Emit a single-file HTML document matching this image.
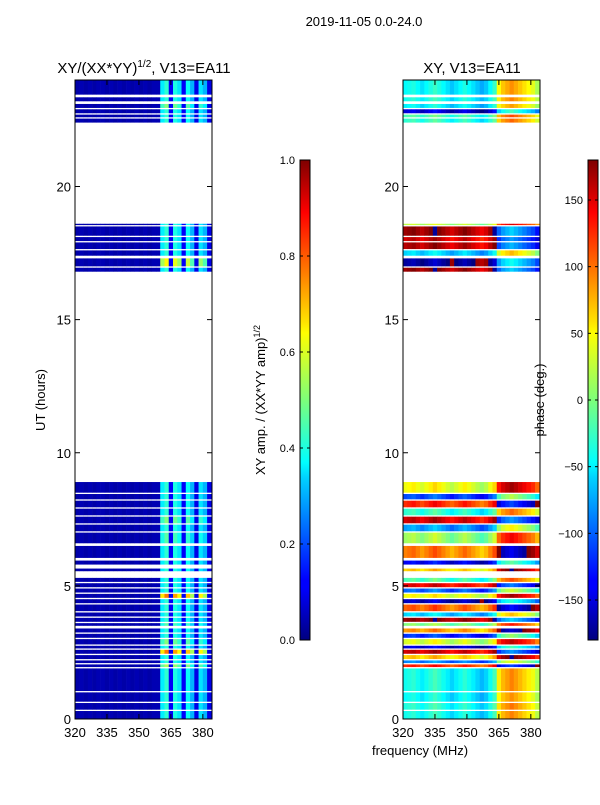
<!DOCTYPE html>
<html><head><meta charset="utf-8"><style>
body{margin:0;background:#fff;font-family:"Liberation Sans",sans-serif}
svg text{font-family:"Liberation Sans",sans-serif;fill:#000}
</style></head><body>
<svg id="fig" width="600" height="800" viewBox="0 0 600 800" xmlns="http://www.w3.org/2000/svg">
<defs>
<linearGradient id="jet" x1="0" y1="1" x2="0" y2="0">
<stop offset="0" stop-color="#00007f"/><stop offset="0.11" stop-color="#0000ff"/><stop offset="0.125" stop-color="#0000ff"/><stop offset="0.34" stop-color="#00d4ff"/><stop offset="0.37" stop-color="#0ff"/><stop offset="0.5" stop-color="#7dff7a"/><stop offset="0.64" stop-color="#ff0"/><stop offset="0.66" stop-color="#ffe600"/><stop offset="0.89" stop-color="#ff0000"/><stop offset="1" stop-color="#7f0000"/>
</linearGradient>
</defs>
<text x="364" y="26" font-size="13" text-anchor="middle">2019-11-05 0.0-24.0</text>
<g id="left"></g>
<g id="right"></g>
<text x="144" y="73" font-size="15" text-anchor="middle">XY/(XX*YY)<tspan font-size="10" dy="-6">1/2</tspan><tspan dy="6">, V13=EA11</tspan></text>
<text x="472" y="73" font-size="15" text-anchor="middle">XY, V13=EA11</text>
<text transform="translate(45,400) rotate(-90)" font-size="13" text-anchor="middle">UT (hours)</text>
<text x="420" y="755" font-size="13" text-anchor="middle">frequency (MHz)</text>
<text transform="translate(265,400) rotate(-90)" font-size="13" text-anchor="middle">XY amp. / (XX*YY amp)<tspan font-size="9" dy="-5">1/2</tspan></text>
<text transform="translate(544,400) rotate(-90)" font-size="13" text-anchor="middle">phase (deg.)</text>
</svg>
<script>
// time blocks with data (hours)
const blockStart=[0.0,0.35,0.65,1.05,1.95,2.1,2.25,2.45,2.65,2.8,3.05,3.25,3.5,3.65,3.85,4.05,4.35,4.55,4.75,4.95,5.15,5.55,5.8,6.05,6.6,7.05,7.35,7.65,7.95,8.25,8.5,16.8,17.0,17.4,17.65,17.95,18.15,18.55,22.4,22.6,22.75,22.95,23.2,23.45];
const blockEnd  =[0.3,0.6,1.0,1.9,2.05,2.2,2.4,2.6,2.75,3.0,3.2,3.4,3.6,3.8,4.0,4.3,4.5,4.7,4.9,5.1,5.3,5.65,5.95,6.5,7.0,7.3,7.6,7.9,8.2,8.45,8.9,16.95,17.3,17.6,17.9,18.1,18.5,18.6,22.55,22.7,22.9,23.1,23.35,24.0];
const blockAmpScale=[1,1,1,1,1.3,1,1,1.8,1,1.2,1,1,1.1,1,1,1,1,1.8,1,1,1,1,1,1,1.1,1,1.2,1,1,1,1,1,1.5,1,1,1,1,1,1,1,1,1.2,1,1];
const blockPhase=[-40,-35,-45,-40,120,-90,60,150,-150,30,-120,80,0,170,-60,100,-160,40,-100,140,-20,60,-140,90,10,-80,150,-30,120,-110,40,170,-170,-60,160,150,170,20,-30,-20,-150,-50,-40,-45];
// channel centres (MHz)
const chanFreq=[321,323,325,327,329,331,333,335,337,339,341,343,345,347,349,351,353,355,357,359,361,363,365,367,369,371,373,375,377,379,381,383];
const chanAmp=[0.04,0.05,0.04,0.05,0.04,0.05,0.05,0.04,0.05,0.04,0.05,0.04,0.05,0.04,0.05,0.04,0.05,0.04,0.05,0.05,0.36,0.42,0.12,0.4,0.35,0.12,0.38,0.3,0.1,0.35,0.3,0.1];
const chanPhase=[0,5,10,0,-10,0,10,20,10,0,-10,-20,-10,0,10,0,-10,-20,-30,-20,0,20,90,110,120,130,120,110,100,90,80,60];
const yTicks=[0,5,10,15,20];
const xTicks=[320,335,350,365,380];
const ampTicks=[0,0.2,0.4,0.6,0.8,1.0];
const phTicks=[-150,-100,-50,0,50,100,150];

const NS="http://www.w3.org/2000/svg";
const svg=document.getElementById('fig');
const top0=80,bot0=719,fMin=320,fMax=384.3;
const yS=h=>bot0-(h/24)*(bot0-top0);
function jet(v){v=Math.max(0,Math.min(1,v));
 const r=Math.max(0,Math.min(1,1.5-Math.abs(4*v-3))),g=Math.max(0,Math.min(1,1.5-Math.abs(4*v-2))),b=Math.max(0,Math.min(1,1.5-Math.abs(4*v-1)));
 return `rgb(${Math.round(r*255)},${Math.round(g*255)},${Math.round(b*255)})`;}
function mk(tag,attrs,parent){const e=document.createElementNS(NS,tag);for(const k in attrs)e.setAttribute(k,attrs[k]);(parent||svg).appendChild(e);return e;}
function wrap(p){while(p>180)p-=360;while(p<-180)p+=360;return p;}

function panel(gid,x0,isPhase){
 const g=document.getElementById(gid);const w=137;
 const xS=f=>x0+(f-fMin)/(fMax-fMin)*w;
 for(let b=0;b<blockStart.length;b++){
  for(let c=0;c<chanFreq.length;c++){
   let v;
   if(isPhase){v=(wrap(chanPhase[c]+blockPhase[b])+180)/360;}
   else{v=Math.min(1,chanAmp[c]*(chanAmp[c]>0.2?blockAmpScale[b]:1));}
   const xa=xS(chanFreq[c]-1),xb=Math.min(x0+w,xS(chanFreq[c]+1));
   const r=mk('rect',{x:xa,y:yS(blockEnd[b]),width:Math.max(0,xb-xa+0.3),height:yS(blockStart[b])-yS(blockEnd[b]),fill:jet(v)},g);
   
   
  }
 }
 const fr=mk('rect',{x:x0,y:top0,width:w,height:bot0-top0,fill:'none',stroke:'#000','stroke-width':1},g);
 
 
 yTicks.forEach(t=>{const y=yS(t);
  mk('line',{x1:x0,x2:x0+5,y1:y,y2:y,stroke:'#000'},g);mk('line',{x1:x0+w-5,x2:x0+w,y1:y,y2:y,stroke:'#000'},g);
  const tx=mk('text',{x:x0-4,y:y+5,'font-size':13,'text-anchor':'end'},g);tx.textContent=t;
  
  });
 xTicks.forEach(t=>{const x=xS(t);
  mk('line',{x1:x,x2:x,y1:bot0,y2:bot0-5,stroke:'#000'},g);mk('line',{x1:x,x2:x,y1:top0,y2:top0+5,stroke:'#000'},g);
  const tx=mk('text',{x:x,y:bot0+18,'font-size':13,'text-anchor':'middle'},g);tx.textContent=t;
  
  });
}
panel('left',75,false);panel('right',403,true);

function cbar(x,ticks,lo,hi,fmt,name){
 const g=mk('g',{});
 
 
 mk('rect',{x:x,y:160,width:10,height:480,fill:'url(#jet)',stroke:'#000','stroke-width':1},g);
 ticks.forEach(t=>{const y=640-(t-lo)/(hi-lo)*480;
  mk('line',{x1:x,x2:x+3,y1:y,y2:y,stroke:'#000'},g);mk('line',{x1:x+7,x2:x+10,y1:y,y2:y,stroke:'#000'},g);
  const tx=mk('text',{x:x-5,y:y+4,'font-size':11,'text-anchor':'end'},g);tx.textContent=fmt(t);
  
  });
}
cbar(300,ampTicks,0,1,t=>t.toFixed(1),'amp-colorbar');
cbar(588,phTicks,-180,180,t=>t<0?'\u2212'+(-t):String(t),'phase-colorbar');
</script>
</body></html>
